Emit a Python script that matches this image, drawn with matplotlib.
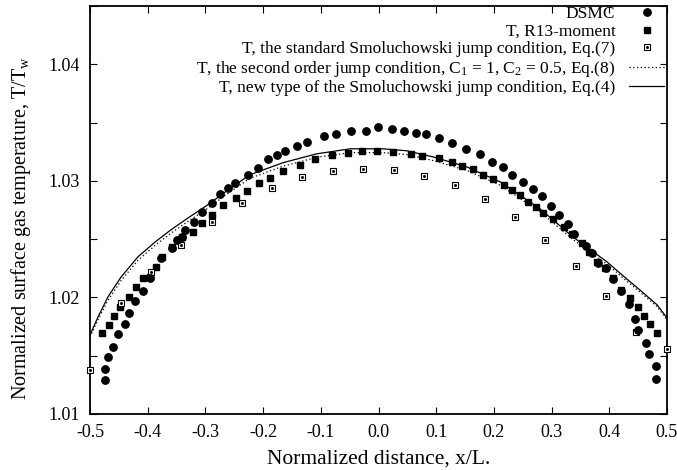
import numpy as np
import matplotlib
matplotlib.use('Agg')
import matplotlib.pyplot as plt
from matplotlib.ticker import MultipleLocator, FormatStrFormatter
from matplotlib.legend_handler import HandlerTuple

plt.rcParams['font.family'] = 'Liberation Serif'
plt.rcParams['mathtext.fontset'] = 'custom'
plt.rcParams['mathtext.rm'] = 'Liberation Serif'
plt.rcParams['mathtext.it'] = 'Liberation Serif'
plt.rcParams['axes.unicode_minus'] = False

# DSMC
x_dsmc = [-0.474, -0.474, -0.469, -0.460, -0.451, -0.439, -0.432, -0.422, -0.408, -0.396,
          -0.377, -0.358, -0.349, -0.341, -0.335, -0.320, -0.306, -0.289, -0.275, -0.261,
          -0.249, -0.226, -0.209, -0.192, -0.176, -0.162, -0.141, -0.124, -0.094, -0.074,
          -0.048, -0.022, -0.001, 0.023, 0.044, 0.065, 0.082, 0.105, 0.127, 0.152,
          0.176, 0.197, 0.216, 0.231, 0.250, 0.268, 0.283, 0.299, 0.313, 0.328,
          0.339, 0.360, 0.370, 0.380, 0.394, 0.406, 0.420, 0.434, 0.445, 0.450,
          0.464, 0.469, 0.481, 0.481]
T_dsmc = [1.01292, 1.01386, 1.01489, 1.01575, 1.01687, 1.01773, 1.01867, 1.01970, 1.02056, 1.02167,
          1.02339, 1.02425, 1.02494, 1.02519, 1.02579, 1.02648, 1.02734, 1.02811, 1.02888, 1.02940,
          1.02983, 1.03052, 1.03112, 1.03189, 1.03223, 1.03258, 1.03300, 1.03335, 1.03386, 1.03403,
          1.03429, 1.03429, 1.03464, 1.03446, 1.03429, 1.03412, 1.03403, 1.03369, 1.03326, 1.03275,
          1.03232, 1.03163, 1.03120, 1.03052, 1.02991, 1.02931, 1.02871, 1.02785, 1.02708, 1.02631,
          1.02545, 1.02442, 1.02382, 1.02296, 1.02253, 1.02159, 1.02056, 1.01944, 1.01815, 1.01721,
          1.01609, 1.01515, 1.01412, 1.01300]

# R13-moment
x_r13 = [-0.479, -0.467, -0.458, -0.448, -0.432, -0.420, -0.408, -0.396, -0.386, -0.375,
         -0.358, -0.341, -0.322, -0.306, -0.289, -0.270, -0.247, -0.228, -0.207, -0.188,
         -0.166, -0.136, -0.110, -0.081, -0.053, -0.029, -0.003, 0.025, 0.056, 0.075,
         0.105, 0.127, 0.145, 0.164, 0.181, 0.198, 0.218, 0.231, 0.245, 0.259,
         0.273, 0.285, 0.302, 0.321, 0.335, 0.353, 0.365, 0.379, 0.393, 0.406,
         0.420, 0.436, 0.450, 0.460, 0.471, 0.483]
T_r13 = [1.01695, 1.01764, 1.01841, 1.01918, 1.02004, 1.02090, 1.02167, 1.02176, 1.02262, 1.02348,
         1.02433, 1.02519, 1.02562, 1.02639, 1.02708, 1.02794, 1.02854, 1.02914, 1.02983, 1.03026,
         1.03086, 1.03137, 1.03189, 1.03223, 1.03240, 1.03258, 1.03258, 1.03249, 1.03232, 1.03215,
         1.03197, 1.03163, 1.03129, 1.03103, 1.03052, 1.03017, 1.02966, 1.02923, 1.02880, 1.02820,
         1.02777, 1.02725, 1.02674, 1.02605, 1.02545, 1.02468, 1.02391, 1.02305, 1.02253, 1.02167,
         1.02064, 1.01996, 1.01918, 1.01841, 1.01773, 1.01695]

# standard Smoluchowski jump, Eq.(7)
x_std = [-0.500, -0.447, -0.395, -0.342, -0.289, -0.237, -0.184, -0.132, -0.079, -0.026,
         0.026, 0.079, 0.132, 0.184, 0.237, 0.289, 0.342, 0.395, 0.447, 0.500]
T_std = [1.01378, 1.01953, 1.02219, 1.02451, 1.02648, 1.02811, 1.02940, 1.03034, 1.03086, 1.03103,
         1.03094, 1.03043, 1.02966, 1.02845, 1.02691, 1.02494, 1.02270, 1.02013, 1.01704, 1.01558]

# curves
x_curve = [-0.500, -0.486, -0.469, -0.446, -0.417, -0.387, -0.360, -0.330, -0.296, -0.263,
           -0.223, -0.166, -0.107, -0.049, 0.008, 0.049, 0.094, 0.153, 0.211, 0.280,
           0.337, 0.396, 0.424, 0.453, 0.483, 0.500]
T_second = [1.01660, 1.01810, 1.01975, 1.02145, 1.02318, 1.02447, 1.02550, 1.02653, 1.02765, 1.02885,
            1.03022, 1.03125, 1.03202, 1.03242, 1.03242, 1.03225, 1.03175, 1.03090, 1.02962, 1.02735,
            1.02497, 1.02285, 1.02167, 1.02047, 1.01920, 1.01808]
T_new = [1.01678, 1.01833, 1.02004, 1.02176, 1.02348, 1.02476, 1.02579, 1.02682, 1.02794, 1.02914,
         1.03052, 1.03155, 1.03232, 1.03275, 1.03275, 1.03258, 1.03206, 1.03120, 1.02991, 1.02760,
         1.02519, 1.02305, 1.02185, 1.02064, 1.01936, 1.01824]

fig = plt.figure(figsize=(6.77, 4.70), dpi=100)
ax = fig.add_axes([90/677, 1-414/470, 577/677, 408/470])

h1, = ax.plot(x_dsmc, T_dsmc, 'o', color='black', markersize=5.3, linestyle='none', zorder=4)
h2, = ax.plot(x_r13, T_r13, 's', color='black', markersize=5, linestyle='none', zorder=3)
h3, = ax.plot(x_std, T_std, 's', markerfacecolor='white', markeredgecolor='black',
              markeredgewidth=0.8, markersize=5, linestyle='none', zorder=3, clip_on=False)
h3b, = ax.plot(x_std, T_std, 's', color='black', markersize=1, linestyle='none', zorder=3, clip_on=False)
h4, = ax.plot(x_curve, T_second, color='black', linewidth=0.9, dashes=(1, 2))
h5, = ax.plot(x_curve, T_new, color='black', linewidth=0.9)

ax.set_xlim(-0.5, 0.5)
ax.set_ylim(1.01, 1.045)
ax.xaxis.set_major_locator(MultipleLocator(0.1))
ax.xaxis.set_major_formatter(FormatStrFormatter('%.1f'))
ax.yaxis.set_major_locator(MultipleLocator(0.01))
ax.yaxis.set_minor_locator(MultipleLocator(0.005))
ax.yaxis.set_major_formatter(FormatStrFormatter('%.2f'))
ax.tick_params(which='both', direction='in', top=True, right=True, labelsize=13)
ax.tick_params(which='major', length=5, width=0.8)
ax.tick_params(which='minor', length=5, width=0.8)
ax.tick_params(axis='x', pad=7)
ax.tick_params(axis='y', pad=7)
for s in ax.spines.values():
    s.set_linewidth(1.3)

# keep the last x tick label inside the figure
ax.get_xticklabels()[-1].set_horizontalalignment('right')
for lab in ax.get_xticklabels():
    if lab.get_text() == '0.5':
        lab.set_horizontalalignment('right')

ax.set_xlabel('Normalized distance, x/L.', fontsize=15.5, labelpad=6)
ax.set_ylabel('Normalized surface gas temperature, T/T$_\\mathrm{w}$', fontsize=14.5)
ax.yaxis.set_label_coords(-0.098, 0.456)

labels = ['DSMC', 'T, R13-moment',
          'T, the standard Smoluchowski jump condition, Eq.(7)',
          'T, the second order jump condition, C$_1$ = 1, C$_2$ = 0.5, Eq.(8)',
          'T, new type of the Smoluchowski jump condition, Eq.(4)']
leg = ax.legend([h1, h2, (h3, h3b), h4, h5], labels, loc='upper right',
                bbox_to_anchor=(664/677, 1-6/470), bbox_transform=fig.transFigure,
                frameon=False, markerfirst=False, fontsize=12.5, handlelength=2.0,
                handletextpad=0.8, labelspacing=0.08, borderpad=0, borderaxespad=0,
                numpoints=1, handler_map={tuple: HandlerTuple(ndivide=1)})

fig.canvas.draw()
for lab in ax.get_xticklabels():
    if lab.get_text() == '0.5':
        lab.set_horizontalalignment('center')
        lab.set_x(0.493)

fig.savefig('out.png', dpi=100)
